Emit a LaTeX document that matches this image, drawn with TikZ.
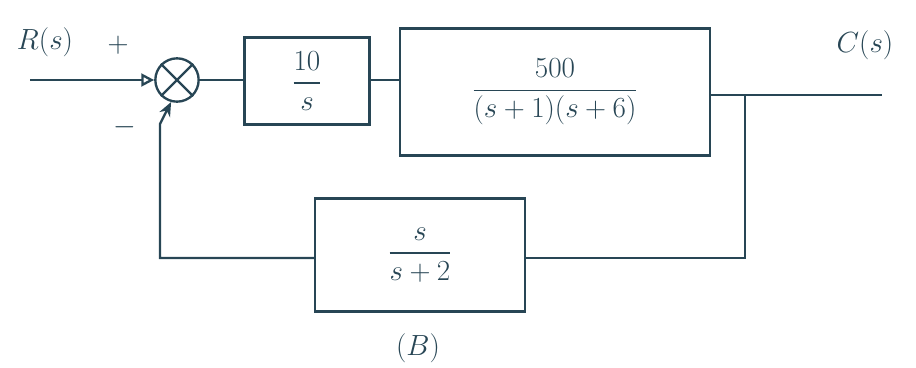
\documentclass[tikz,border=0pt]{standalone}
\usepackage{amsmath}
\usetikzlibrary{arrows.meta}
\definecolor{ink}{RGB}{40,70,85}
\begin{document}
\begin{tikzpicture}[x=0.03cm,y=-0.03cm,
  ln/.style={line width=2pt,draw=ink},
  frac/.style={text=ink,font=\fontsize{24}{28}\selectfont},
  lbl/.style={text=ink,font=\fontsize{26}{30}\selectfont}]
\useasboundingbox (0,0) rectangle (916,368);
% summing junction
\node[ln,draw,circle,minimum size=1.3cm] (sum) at (177,80) {};
\draw[ln] (sum.45) -- (sum.225) (sum.135) -- (sum.-45);
% blocks
\node[ln,draw,frac,minimum width=3.75cm,minimum height=2.6cm] (g1) at (307,81) {$\dfrac{10}{s}$};
\node[ln,draw,frac,minimum width=9.3cm,minimum height=3.8cm] (g2) at (555,92)
  {$\dfrac{500}{(s+1)(s+6)}$};
\node[ln,draw,frac,minimum width=6.3cm,minimum height=3.4cm] (h) at (420,255)
  {$\dfrac{s}{s+2}$};
% coordinates
\coordinate (in) at (30,80);
\coordinate (out) at (882,95);
\coordinate (br) at (745,95);
\coordinate (brd) at (745,258);
\coordinate (fbl) at (160,258);
\coordinate (fbu) at (160,124);
% connectors
\draw[ln,-{Triangle[open,length=11pt,width=11pt]}] (in) -- (sum.west);
\draw[ln] (sum.east) -- (g1.west |- sum.east);
\draw[ln] (g1.east |- sum.east) -- (g2.west |- sum.east);
\draw[ln] (g2.east |- out) -- (out);
\draw[ln] (br) -- (brd) -- (h.east |- brd);
\draw[ln,-{Stealth[length=12pt,width=10pt]}] (h.west |- brd) -- (fbl) -- (fbu) -- (sum.-105);
% labels
\node[lbl] (r) at (45,42) {$R(s)$};
\node[lbl] (plus) at (118,45) {$+$};
\node[lbl] (minus) at (125,127) {$-$};
\node[lbl] (c) at (865,45) {$C(s)$};
\node[lbl] (b) at (418,348) {$(B)$};
\end{tikzpicture}
\end{document}
